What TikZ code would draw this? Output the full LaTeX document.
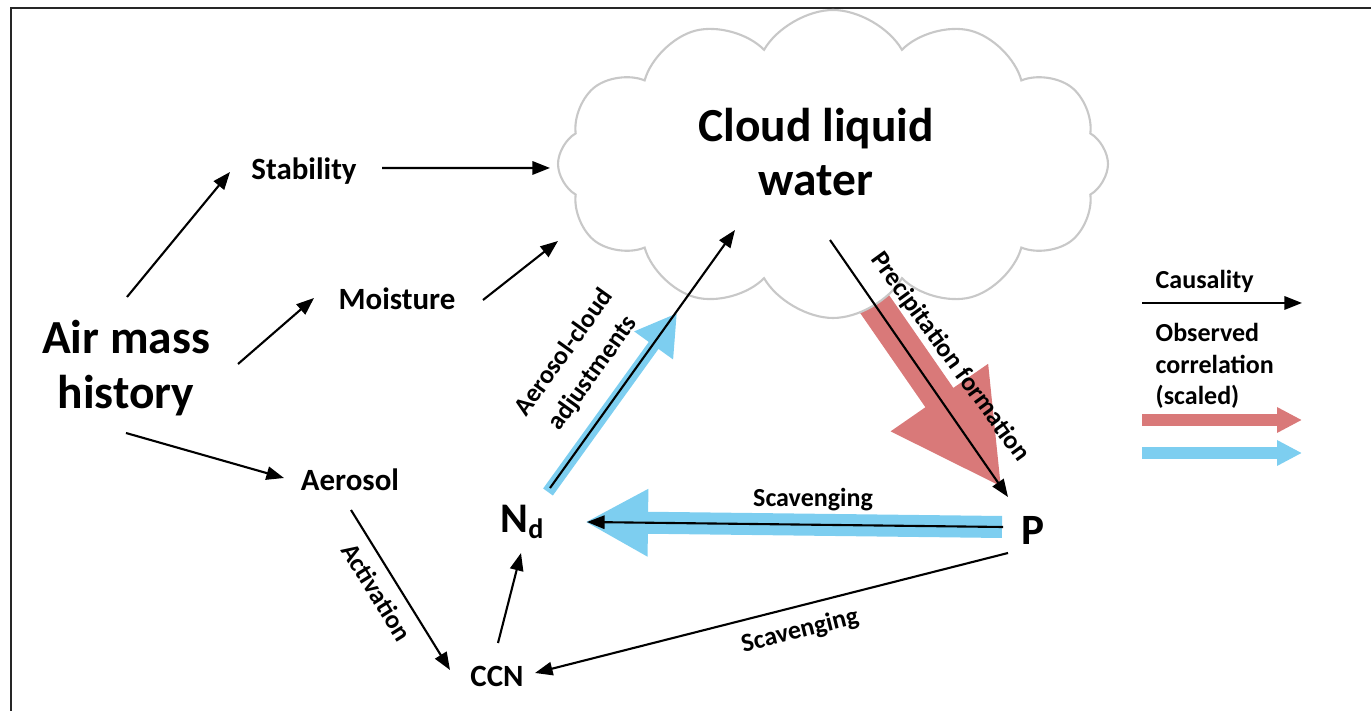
\documentclass[tikz,border=0pt]{standalone}
\usepackage{fontspec}
\setmainfont{Carlito}
\usepackage{tikz}
\usetikzlibrary{arrows.meta,calc}
\usetikzlibrary{shapes.symbols}
\usepackage{xcolor}

\definecolor{corrblue}{RGB}{125,206,240}
\definecolor{corrred}{RGB}{217,121,121}
\definecolor{cloudline}{RGB}{200,200,200}

\tikzset{
  bigtxt/.style={inner sep=0pt, align=center, font=\fontsize{13.5}{15.6}\selectfont\bfseries},
  vartxt/.style={inner sep=0pt, font=\fontsize{8.8}{10.5}\selectfont\bfseries},
  lbltxt/.style={inner sep=0pt, align=center, font=\fontsize{7.4}{9}\selectfont\bfseries},
  cause/.style={line width=0.6pt, -{Triangle[length=5pt,width=3.8pt]}},
}

\begin{document}
\begin{tikzpicture}

\useasboundingbox (0,0) rectangle (13.71,7.10);

% moldura
\draw[line width=0.8pt, black!85] (13.9,7.02) -- (0.11,7.02) -- (0.11,-0.2);

% nós principais
\node[bigtxt] (air) at (1.26,3.42) {Air mass\\history};
\node[vartxt] (stab) at (3.04,5.39) {Stability};
\node[vartxt] (moist) at (3.97,4.11) {Moisture};
\node[vartxt] (aer) at (3.50,2.30) {Aerosol};
\node[vartxt] (ccn) at (4.97,0.34) {CCN};
\node[inner sep=0pt, font=\fontsize{12}{12}\selectfont\bfseries] (nd) at (5.23,1.88) {N\textsubscript{d}};
\node[inner sep=0pt, font=\fontsize{12.3}{12}\selectfont\bfseries] (P) at (10.33,1.80) {P};

% correlação vermelha (por baixo da nuvem)
\draw[corrred, line width=0.34cm, -{Triangle[length=1.1cm,width=1.1cm]}]
  ($(8.16,5.58)+(0.44,-1.31)$) -- ($(P)+(-0.31,0.42)$);

% nuvem
\node[cloud, draw=cloudline, fill=white, line width=0.6pt, cloud puffs=12,
      cloud puff arc=120, aspect=1.8, minimum width=5.5cm, minimum height=3.08cm,
      inner sep=0pt] (cloud) at (8.33,5.46) {};
\node[bigtxt] (cldtxt) at (8.16,5.58) {Cloud liquid\\water};

% correlações azuis
\draw[corrblue, line width=0.12cm, -{Triangle[length=0.40cm,width=0.45cm]}]
  ($(nd)+(0.25,0.30)$) -- ($(cldtxt)+(-1.39,-1.61)$);
\draw[corrblue, line width=0.22cm, -{Triangle[length=0.63cm,width=0.63cm]}]
  ($(P)+(-0.31,0.03)$) -- ($(nd)+(0.62,0)$);

% causalidade
\draw[cause] ($(air)+(0.01,0.71)$) -- ($(stab)+(-0.74,-0.01)$);
\draw[cause] ($(stab)+(0.78,0.03)$) -- ($(cloud)+(-2.83,-0.04)$);
\draw[cause] ($(air)+(1.12,0.04)$) -- ($(moist)+(-0.83,0.01)$);
\draw[cause] ($(moist)+(0.86,-0.01)$) -- ($(cloud)+(-2.75,-0.77)$);
\draw[cause] ($(air)+(0,-0.65)$) -- ($(aer)+(-0.66,0.02)$);
\draw[cause] ($(aer)+(0.01,-0.30)$) -- ($(ccn)+(-0.47,0.06)$);
\draw[cause] ($(ccn)+(0.01,0.33)$) -- ($(nd)+(-0.02,-0.31)$);
\draw[cause] ($(nd)+(0.27,0.34)$) -- ($(cldtxt)+(-0.81,-0.78)$);
\draw[cause] ($(cldtxt)+(0.14,-0.88)$) -- ($(P)+(-0.25,0.33)$);
\draw[cause] ($(P)+(-0.30,0.03)$) -- ($(nd)+(0.64,0)$);
\draw[cause] ($(P)+(-0.25,-0.23)$) -- ($(ccn)+(0.38,0.03)$);

% rótulos das setas
\node[lbltxt, rotate=-58] (act) at (3.77,1.18) {Activation};
\node[lbltxt, rotate=54.4, font=\fontsize{7.4}{10}\selectfont\bfseries] (adj) at (5.79,3.47) {Aerosol-cloud\\adjustments};
\node[lbltxt, rotate=-54] (prec) at (9.50,3.53) {Precipitation formation};
\node[lbltxt] (scavup) at (8.13,2.10) {Scavenging};
\node[lbltxt, rotate=14] (scavlo) at (8.00,0.79) {Scavenging};

% legenda
\node[lbltxt, anchor=west] (caus) at (11.55,4.29) {Causality};
\coordinate (lgk) at (11.42,4.07);
\draw[cause] (lgk) -- ++(1.60,0);
\node[lbltxt, anchor=west, align=left] (obs) at (11.55,3.44) {Observed\\correlation\\(scaled)};
\coordinate (lgr) at (11.42,2.90);
\coordinate (lgb) at (11.42,2.57);
\draw[corrred, line width=0.12cm, -{Triangle[length=0.25cm,width=0.24cm]}] (lgr) -- ++(1.60,0);
\draw[corrblue, line width=0.12cm, -{Triangle[length=0.25cm,width=0.24cm]}] (lgb) -- ++(1.60,0);

\end{tikzpicture}
\end{document}
